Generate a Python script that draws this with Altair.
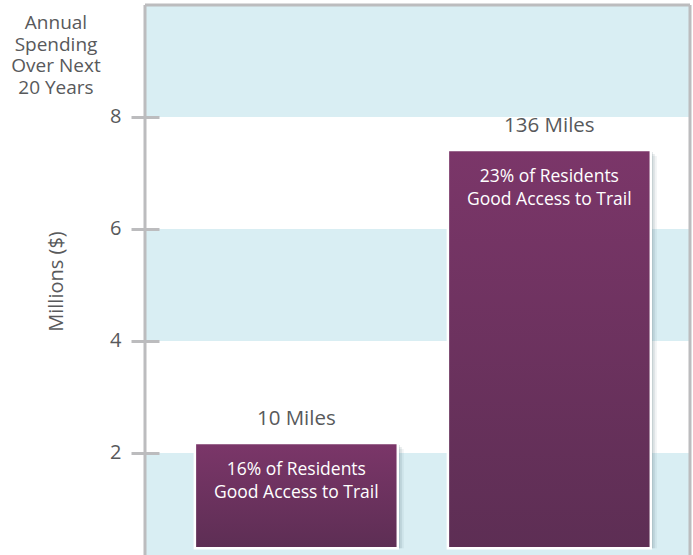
import altair as alt
import pandas as pd

# ---- data ----
categories = ["10 Miles", "136 Miles"]
spending = [2.18, 7.41]
bar_base = [0.3, 0.3]
access_text = ["16% of Residents\nGood Access to Trail",
               "23% of Residents\nGood Access to Trail"]
band_lo = [0, 4, 8]
band_hi = [2, 6, 10]
tick_values = [2, 4, 6, 8]
title_lines = ["Annual", "Spending", "Over Next", "20 Years"]
y_title = "Millions ($)"

W, H = 545, 551
FONT = "Open Sans"
GRAY = "#58595b"
LINE = "#bcbcbe"
BLUE = "#d9eef3"

bars = pd.DataFrame({"cat": categories, "val": spending, "base": bar_base, "inner": access_text})
bands = pd.DataFrame({"lo": band_lo, "hi": band_hi})
one = pd.DataFrame({"k": [0]})

yscale = alt.Scale(domain=[0.16, 10], nice=False, zero=False)
xscale = alt.Scale(domain=categories, paddingInner=0.198, paddingOuter=0.176, align=0.56)

band_layer = alt.Chart(bands).mark_rect(color=BLUE, clip=True).encode(
    y=alt.Y("lo:Q", scale=yscale, axis=alt.Axis(
        values=tick_values, format="d", domain=False, grid=False, tickSize=28, tickWidth=3,
        tickColor=LINE, offset=-14, labelPadding=10, labelFont=FONT,
        labelFontSize=20, labelColor=GRAY, title=y_title, titleFont=FONT,
        titleFontSize=20, titleFontWeight="normal", titleColor=GRAY,
        titleX=-103, titleY=276, titleAngle=-90, titleAlign="center",
        titleBaseline="middle", zindex=1)),
    y2="hi:Q",
)

base = alt.Chart(bars).encode(
    x=alt.X("cat:N", scale=xscale, axis=None, sort=categories),
)

shadows = []
for dx, dy, op in [(2, 2, 0.2), (4, 4, 0.13), (6, 6, 0.08)]:
    shadows.append(base.mark_bar(color="#4a6a72", opacity=op, xOffset=dx, yOffset=dy).encode(
        y=alt.Y("val:Q", scale=yscale), y2="base:Q"))

grad = alt.Gradient(
    gradient="linear",
    stops=[alt.GradientStop(color="#7b3669", offset=0),
           alt.GradientStop(color="#5d2e54", offset=1)],
    x1=0, x2=0, y1=0, y2=1,
)
bar_layer = base.mark_bar(color=grad, stroke="white", strokeWidth=2.5).encode(
    y=alt.Y("val:Q", scale=yscale), y2="base:Q")

top_label = base.mark_text(font=FONT, fontSize=20.5, color=GRAY, baseline="bottom", dy=-14).encode(
    y=alt.Y("val:Q", scale=yscale), text="cat:N")

inner_label = base.mark_text(font=FONT, fontSize=17.5, color="white", baseline="top",
                             dy=18, lineBreak="\n", lineHeight=23).encode(
    y=alt.Y("val:Q", scale=yscale), text="inner:N")

frame_left = alt.Chart(one).mark_rule(color=LINE, strokeWidth=3).encode(
    x=alt.value(0), y=alt.value(0), y2=alt.value(H))
frame_top = alt.Chart(one).mark_rule(color=LINE, strokeWidth=3).encode(
    x=alt.value(0), x2=alt.value(W), y=alt.value(0))
frame_right = alt.Chart(one).mark_rule(color=LINE, strokeWidth=3).encode(
    x=alt.value(W), y=alt.value(0), y2=alt.value(H))

title_text = alt.Chart(one).mark_text(
    text=title_lines, font=FONT, fontSize=19, fontWeight="normal", color=GRAY, align="center",
    baseline="alphabetic", lineHeight=21.5).encode(
    x=alt.value(-89), y=alt.value(24))

chart = alt.layer(
    band_layer, *shadows, bar_layer, top_label, inner_label,
    frame_left, frame_top, frame_right, title_text,
).properties(
    width=W, height=H,
    autosize=alt.AutoSizeParams(type="none"),
    padding={"left": 145, "top": 5, "right": 3, "bottom": 0},
    background="white",
).configure_view(stroke=None)

chart.save("out.html", embed_options={"renderer": "svg", "actions": False})
